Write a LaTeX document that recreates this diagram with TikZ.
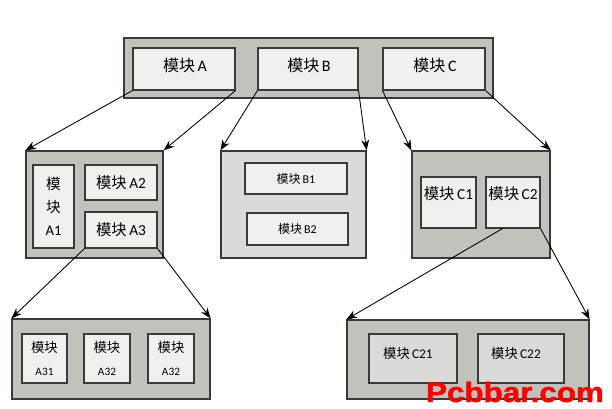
\documentclass[tikz,border=0pt]{standalone}
\usepackage{fontspec}
\setmainfont{Carlito}
\newfontfamily\cjkfont{Noto Sans CJK SC}
\newfontfamily\wmfont[BoldFeatures={FakeBold=1.5}]{Liberation Sans}
\usetikzlibrary{arrows.meta,calc}
\newcommand\mokuai{{\cjkfont 模块}}
\definecolor{bordc}{HTML}{3A3A3A}
\definecolor{outerA}{HTML}{C3C1BC}
\definecolor{outerB}{HTML}{DCDAD6}
\definecolor{innerc}{HTML}{F1F0EE}
\definecolor{innerg}{HTML}{DCDAD6}
\tikzset{
  outerbox/.style={draw=bordc, line width=0.9pt, fill=outerA, inner sep=0pt},
  innerbox/.style={draw=bordc, line width=0.8pt, fill=innerc, inner sep=0pt, align=center},
  conn/.style={draw=black, line width=0.65pt, -{Stealth[length=8pt,width=6pt]}},
  lab/.style={inner sep=0pt, align=center}
}
\begin{document}
\begin{tikzpicture}[x=0.75pt,y=-0.75pt]
\useasboundingbox (0,0) rectangle (612,408);
% top level
\node[outerbox, minimum width=276.75pt, minimum height=45pt] (T) at (308.5,68) {};
\node[innerbox, minimum width=76.5pt, minimum height=31.5pt] (A) at (184,69) {};
\node[lab, font=\fontsize{12}{14}\selectfont] (At) at (185,65.5) {\mokuai\,A};
\node[innerbox, minimum width=75pt, minimum height=31.5pt] (B) at (308,69) {};
\node[lab, font=\fontsize{12}{14}\selectfont] (Bt) at (309,65.5) {\mokuai\,B};
\node[innerbox, minimum width=76.5pt, minimum height=31.5pt] (C) at (434,69) {};
\node[lab, font=\fontsize{12}{14}\selectfont] (Ct) at (435,65.5) {\mokuai\,C};
% level 2 A
\node[outerbox, minimum width=102.75pt, minimum height=80.25pt] (OA) at (94.5,204.5) {};
\node[innerbox, minimum width=30.75pt, minimum height=62.25pt, font=\fontsize{11}{17}\selectfont] (A1) at (53.5,206.5) {{\cjkfont 模}\\{\cjkfont 块}\\A1};
\node[innerbox, minimum width=54pt, minimum height=26.25pt, font=\fontsize{11.5}{13}\selectfont] (A2) at (121,182.5) {\mokuai\,A2};
\node[innerbox, minimum width=54pt, minimum height=27pt, font=\fontsize{11.5}{13}\selectfont] (A3) at (121,230) {\mokuai\,A3};
% level 2 B
\node[outerbox, fill=outerB, minimum width=108.75pt, minimum height=80.25pt] (OB) at (293.5,204.5) {};
\node[innerbox, minimum width=76.5pt, minimum height=23.25pt, font=\fontsize{9}{11}\selectfont] (B1) at (296,178.5) {\mokuai\,B1};
\node[innerbox, minimum width=75.75pt, minimum height=24pt, font=\fontsize{9}{11}\selectfont] (B2) at (297.5,229) {\mokuai\,B2};
% level 2 C
\node[outerbox, minimum width=103.5pt, minimum height=80.25pt] (OC) at (481,204.5) {};
\node[innerbox, minimum width=41.25pt, minimum height=38.25pt] (C1) at (448.5,202.5) {};
\node[lab, font=\fontsize{11.5}{13}\selectfont] (C1t) at (448.5,194) {\mokuai\,C1};
\node[innerbox, minimum width=40.5pt, minimum height=38.25pt] (C2) at (513,202.5) {};
\node[lab, font=\fontsize{11.5}{13}\selectfont] (C2t) at (513,194) {\mokuai\,C2};
% level 3 A
\node[outerbox, minimum width=148.5pt, minimum height=60pt] (OA3) at (111,359) {};
\node[innerbox, minimum width=33.75pt, minimum height=36.75pt] (A31) at (44.5,358.5) {};
\node[lab, font=\fontsize{10}{12}\selectfont] (A31a) at (44.5,347) {\mokuai};
\node[lab, font=\fontsize{8.5}{10}\selectfont] (A31b) at (44.5,372) {A31};
\node[innerbox, minimum width=34.5pt, minimum height=36.75pt] (A32) at (107,358.5) {};
\node[lab, font=\fontsize{10}{12}\selectfont] (A32a) at (107,347) {\mokuai};
\node[lab, font=\fontsize{8.5}{10}\selectfont] (A32b) at (107,372) {A32};
\node[innerbox, minimum width=34.5pt, minimum height=36.75pt] (A33) at (171,358.5) {};
\node[lab, font=\fontsize{10}{12}\selectfont] (A33a) at (171,347) {\mokuai};
\node[lab, font=\fontsize{8.5}{10}\selectfont] (A33b) at (171,372) {A32};
% level 3 C
\node[outerbox, minimum width=181.5pt, minimum height=59.25pt] (OC2) at (468,359.5) {};
\node[innerbox, fill=innerg, minimum width=66pt, minimum height=36.75pt] (C21) at (413,358.5) {};
\node[lab, font=\fontsize{10}{12}\selectfont] (C21t) at (408,353) {\mokuai\,C21};
\node[innerbox, fill=innerg, minimum width=64.5pt, minimum height=36.75pt] (C22) at (521,358.5) {};
\node[lab, font=\fontsize{10}{12}\selectfont] (C22t) at (516,353) {\mokuai\,C22};
% connectors
\draw[conn] (A.south west) -- (OA.north west);
\draw[conn] (A.south east) -- (OA.north east);
\draw[conn] (B.south west) -- (OB.north west);
\draw[conn] (B.south east) -- (OB.north east);
\draw[conn] (C.south west) -- (OC.north west);
\draw[conn] (C.south east) -- (OC.north east);
\draw[conn] (A3.south west) -- (OA3.north west);
\draw[conn] (A3.south east) -- (OA3.north east);
\draw[conn] ($(C2.south west)!0.31!(C2.south east)$) -- (OC2.north west);
\draw[conn] (C2.south east) -- (OC2.north east);
% watermark
\node[lab, text=red, font=\wmfont\bfseries\fontsize{21}{24}\selectfont, xscale=1.12] (wm) at (515,392) {Pcbbar.com};
\end{tikzpicture}
\end{document}
